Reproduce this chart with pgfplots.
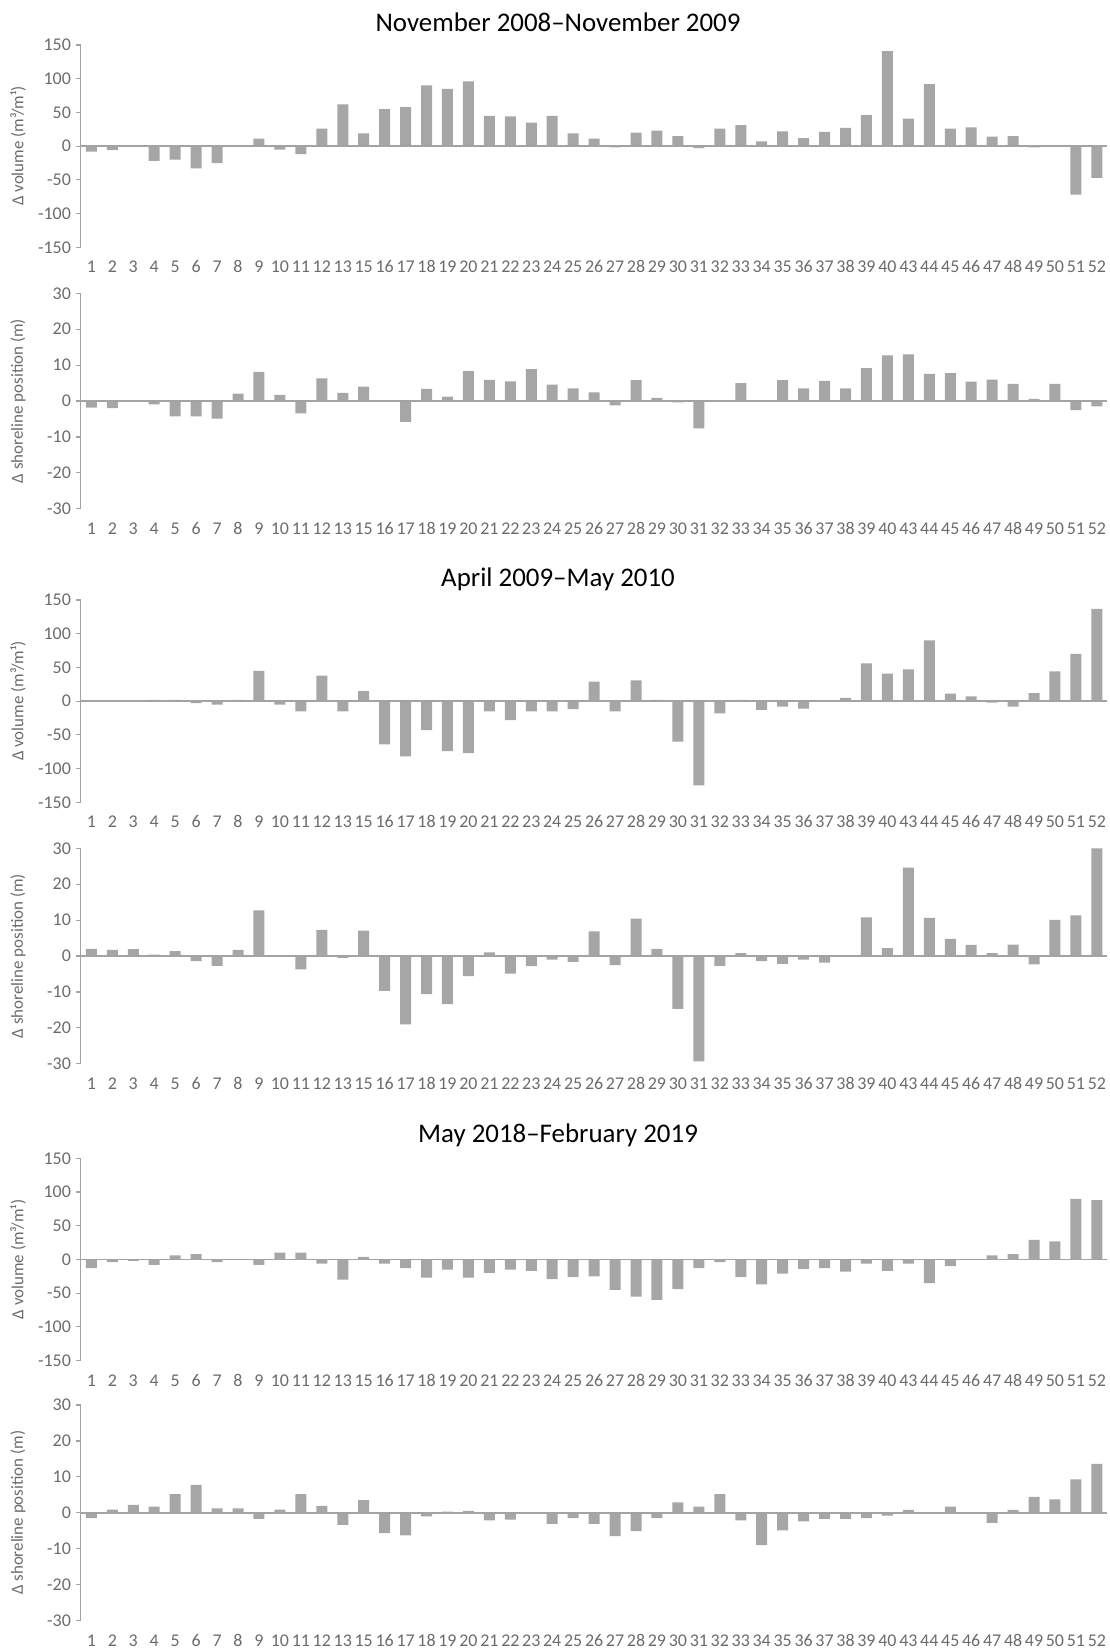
\documentclass[border=0pt]{standalone}
\usepackage{fontspec}
\setmainfont{Carlito}
\usepackage{pgfplots}
\usepackage{pgfplotstable}
\pgfplotsset{compat=1.18}
\definecolor{bargray}{HTML}{A6A6A6}
\definecolor{axgray}{HTML}{A3A3A3}
\definecolor{txtgray}{HTML}{6B6B6B}

\pgfplotstableread{
lab v1 s1 v2 s2 v3 s3
1 -8 -1.8 0 2.0 -13 -1.5
2 -6 -2.0 0 1.7 -4 0.9
3 0 0 0 1.9 -2 2.2
4 -22 -0.9 2 0.4 -8 1.7
5 -20 -4.3 2 1.4 6 5.2
6 -33 -4.3 -3 -1.4 8 7.8
7 -25 -4.9 -5 -2.7 -4 1.2
8 0 2.1 2 1.7 0 1.2
9 11 8.1 45 12.7 -8 -1.7
10 -5 1.7 -5 0 10 0.9
11 -12 -3.4 -15 -3.7 10 5.2
12 26 6.3 38 7.3 -6 1.9
13 62 2.3 -15 -0.5 -30 -3.4
15 19 4.0 15 7.1 4 3.5
16 55 0 -64 -9.7 -6 -5.7
17 58 -5.8 -82 -19.0 -13 -6.3
18 90 3.4 -43 -10.6 -27 -1.0
19 85 1.2 -74 -13.4 -15 0.3
20 96 8.3 -77 -5.6 -27 0.5
21 45 5.9 -15 1.0 -20 -2.1
22 44 5.5 -28 -4.9 -15 -1.9
23 35 8.9 -15 -2.8 -17 0
24 45 4.6 -15 -1.0 -29 -3.1
25 19 3.5 -12 -1.6 -26 -1.5
26 11 2.4 29 6.9 -25 -3.1
27 -2 -1.2 -15 -2.5 -45 -6.5
28 20 5.8 31 10.4 -55 -5.1
29 23 0.9 2 2.0 -60 -1.5
30 15 -0.4 -60 -14.7 -44 2.9
31 -3 -7.6 -125 -29.3 -13 1.7
32 26 0 -18 -2.7 -4 5.2
33 31 5.0 2 0.8 -26 -2.1
34 7 0 -13 -1.4 -37 -9.0
35 22 5.8 -8 -2.2 -21 -4.9
36 12 3.5 -11 -1.0 -14 -2.4
37 21 5.6 0 -1.8 -13 -1.7
38 27 3.5 5 0 -18 -1.7
39 46 9.2 56 10.8 -6 -1.5
40 141 12.7 41 2.2 -17 -0.8
43 41 13.0 47 24.6 -6 0.8
44 92 7.6 90 10.6 -35 0
45 26 7.8 11 4.8 -10 1.7
46 28 5.4 7 3.1 0 0
47 14 6.0 -2 0.8 6 -2.8
48 15 4.8 -8 3.2 8 0.8
49 -2 0.6 12 -2.3 29 4.4
50 0 4.8 44 10.1 27 3.7
51 -72 -2.5 70 11.3 90 9.3
52 -47 -1.5 137 30.0 88 13.6
}\data

\pgfplotsset{
 base/.style={
  scale only axis, width=1026.5bp, xmin=-0.5, xmax=48.5,
  xtick={0,...,48}, xticklabels from table={\data}{lab},
  axis x line*=bottom, axis y line*=left,
  x axis line style={draw=none},
  y axis line style={draw=axgray, line width=1.2bp},
  tick align=outside, major tick length=4.5bp,
  xtick style={draw=none},
  ytick style={draw=axgray, line width=1.2bp},
  tick label style={font=\fontsize{18}{18}\selectfont, text=txtgray},
  xticklabel style={anchor=base, yshift=-21bp},
  yticklabel style={xshift=-2bp},
  ylabel style={font=\fontsize{17}{17}\selectfont, text=txtgray, at={(axis description cs:-0.0612,0.5)}, anchor=center},
  ybar, bar width=11bp, clip=false,
  anchor=north west,
 },
 vol/.style={base, height=202.3bp, ymin=-150, ymax=150, ytick={-150,-100,...,150}, yticklabels={-150,-100,-50,0,50,100,150}, ylabel={Δ volume (m³/m¹)}},
 shore/.style={base, height=215.5bp, ymin=-30, ymax=30, ytick={-30,-20,...,30}, yticklabels={-30,-20,-10,0,10,20,30}, ylabel={Δ shoreline position (m)}},
}

\begin{document}
\begin{tikzpicture}
\useasboundingbox (0,0) rectangle (1110bp,-1648bp);
\node[anchor=base, font=\fontsize{27}{27}\selectfont] at (558bp,-31bp) {November 2008–November 2009};
\node[anchor=base, font=\fontsize{27}{27}\selectfont] at (558bp,-586bp) {April 2009–May 2010};
\node[anchor=base, font=\fontsize{27}{27}\selectfont] at (558bp,-1142bp) {May 2018–February 2019};

\begin{axis}[vol, at={(80.9bp,-45bp)}]
\addplot[fill=bargray, draw=none] table[x expr=\coordindex, y=v1] {\data};
\draw[axgray, line width=1.5bp] (axis cs:-0.5,0) -- (axis cs:48.5,0);
\end{axis}
\begin{axis}[shore, at={(80.9bp,-293.3bp)}]
\addplot[fill=bargray, draw=none] table[x expr=\coordindex, y=s1] {\data};
\draw[axgray, line width=1.5bp] (axis cs:-0.5,0) -- (axis cs:48.5,0);
\end{axis}
\begin{axis}[vol, at={(80.9bp,-600bp)}]
\addplot[fill=bargray, draw=none] table[x expr=\coordindex, y=v2] {\data};
\draw[axgray, line width=1.5bp] (axis cs:-0.5,0) -- (axis cs:48.5,0);
\end{axis}
\begin{axis}[shore, at={(80.9bp,-848.3bp)}]
\addplot[fill=bargray, draw=none] table[x expr=\coordindex, y=s2] {\data};
\draw[axgray, line width=1.5bp] (axis cs:-0.5,0) -- (axis cs:48.5,0);
\end{axis}
\begin{axis}[vol, at={(80.9bp,-1158.3bp)}]
\addplot[fill=bargray, draw=none] table[x expr=\coordindex, y=v3] {\data};
\draw[axgray, line width=1.5bp] (axis cs:-0.5,0) -- (axis cs:48.5,0);
\end{axis}
\begin{axis}[shore, at={(80.9bp,-1405bp)}]
\addplot[fill=bargray, draw=none] table[x expr=\coordindex, y=s3] {\data};
\draw[axgray, line width=1.5bp] (axis cs:-0.5,0) -- (axis cs:48.5,0);
\end{axis}
\end{tikzpicture}
\end{document}
